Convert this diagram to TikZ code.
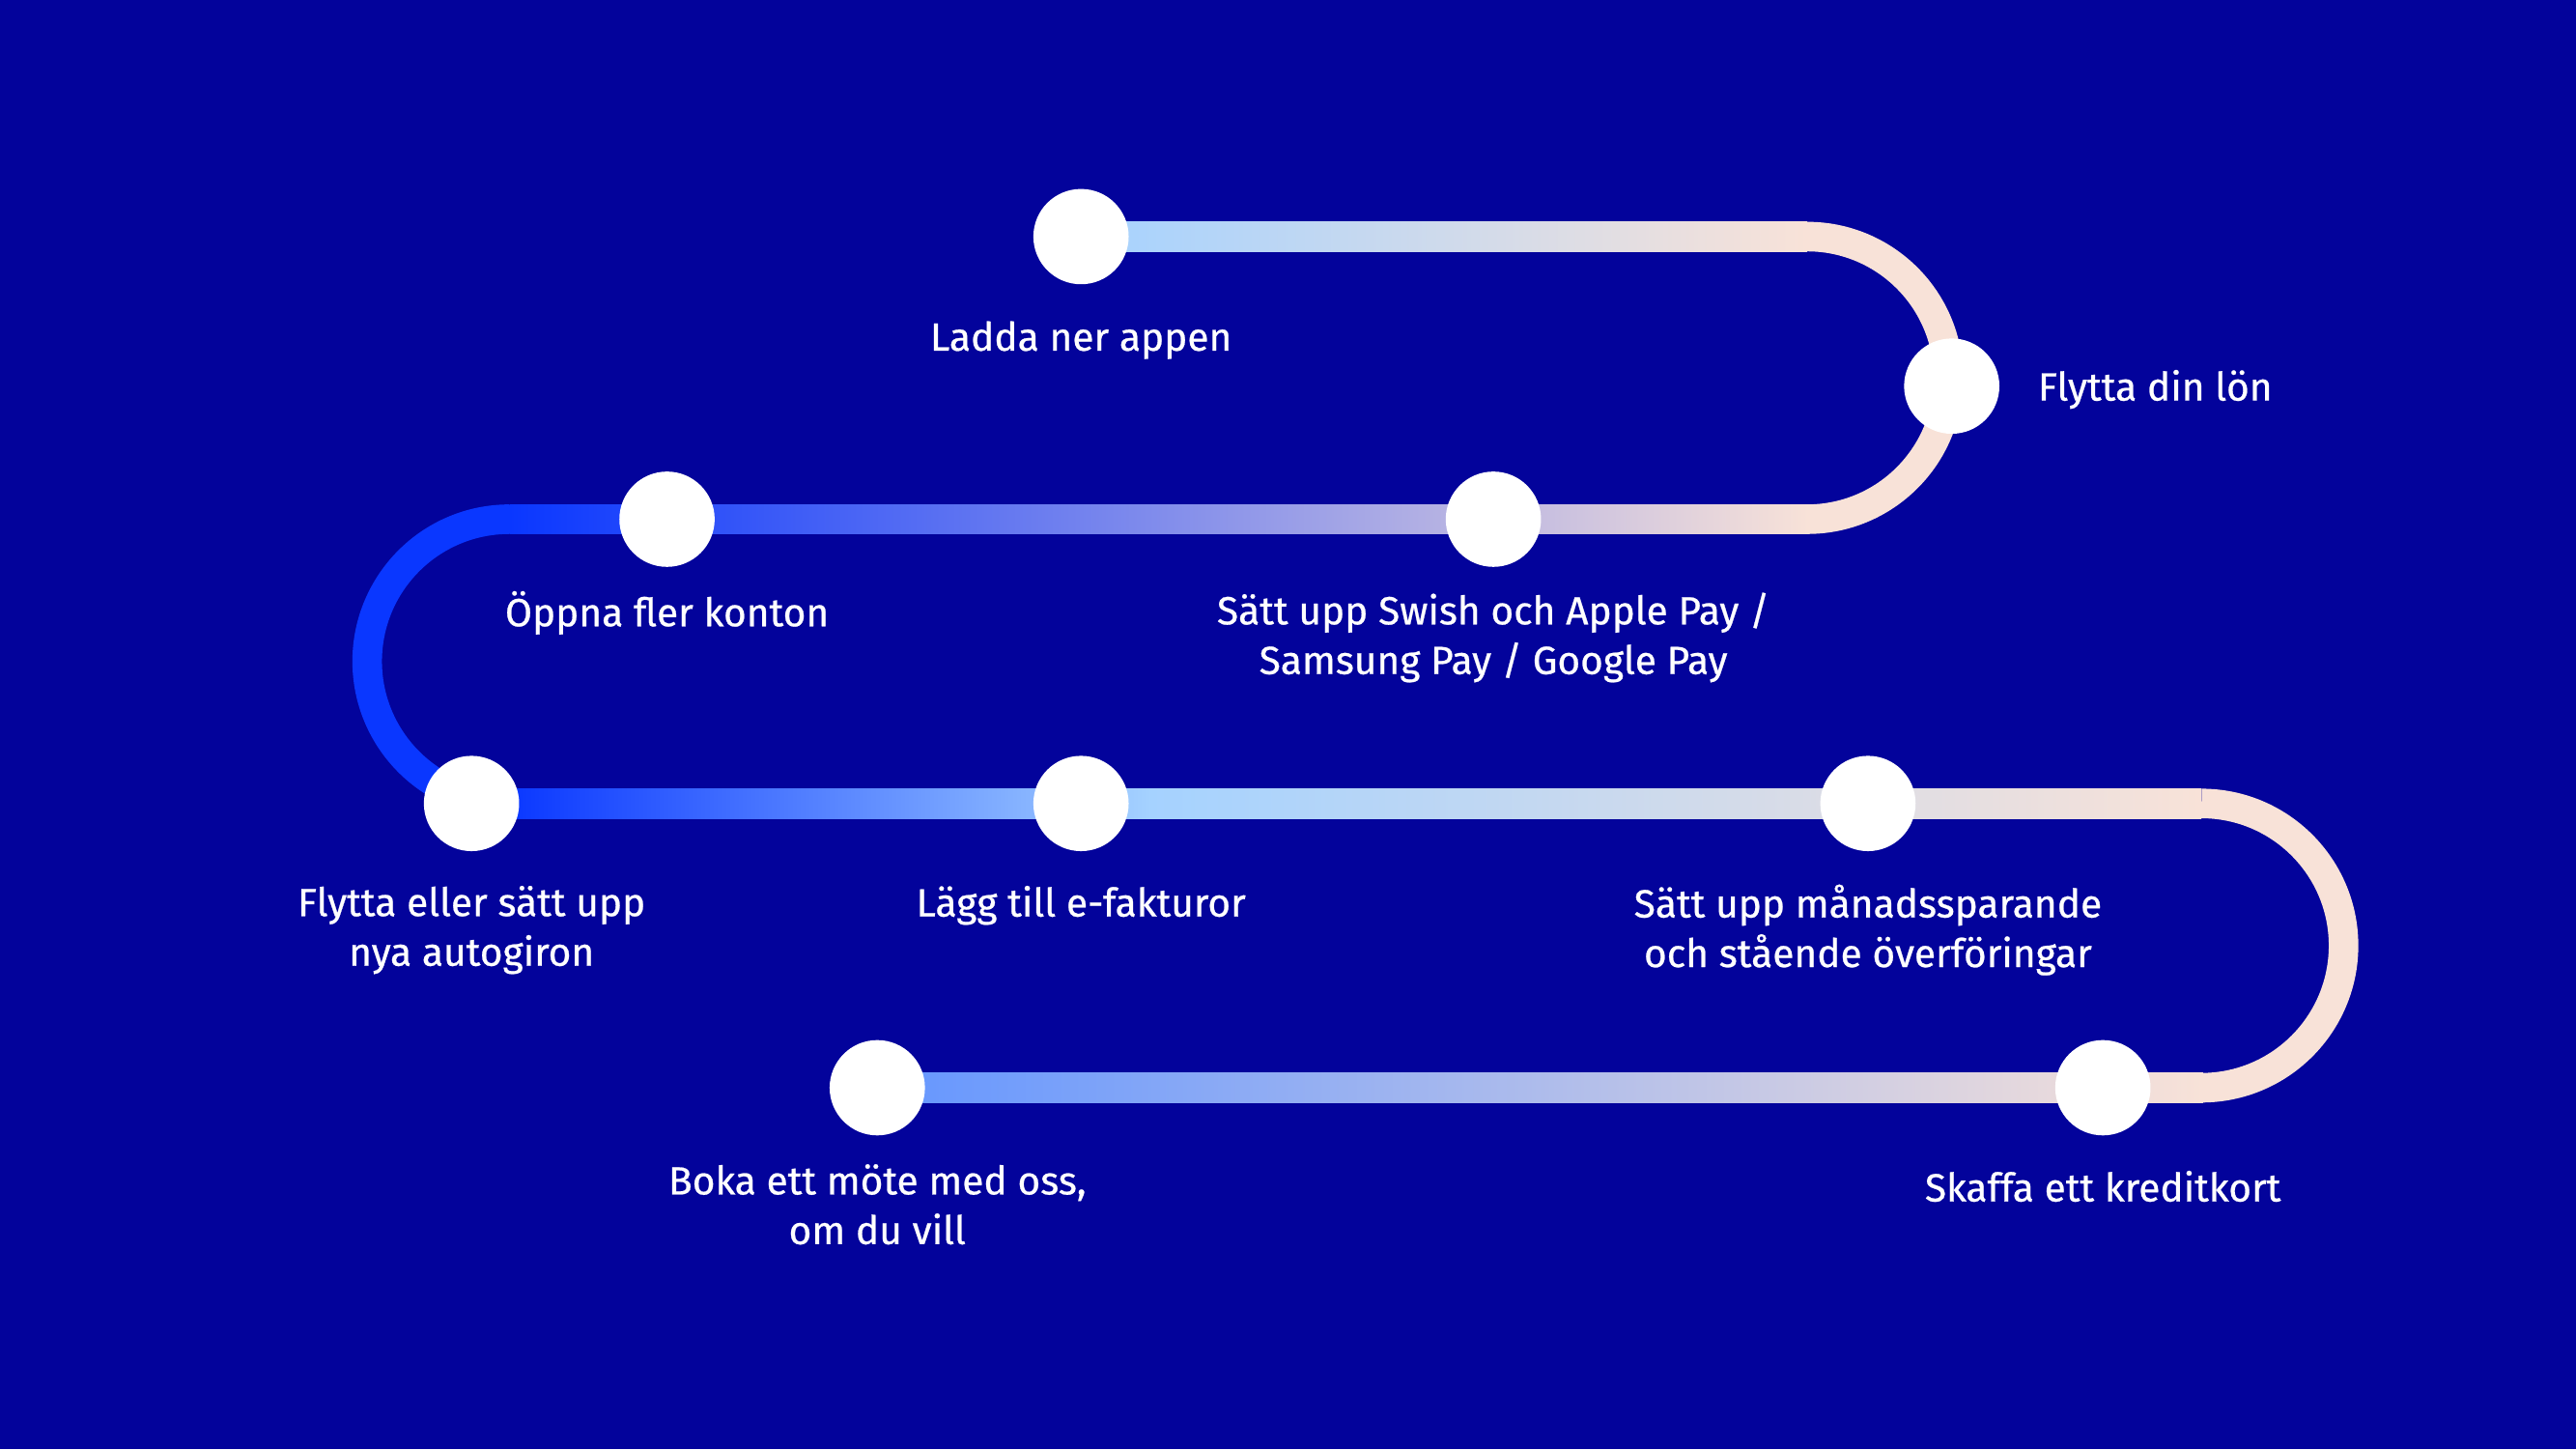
\documentclass[tikz,border=0pt]{standalone}
\usepackage{fontspec}
\setmainfont{Fira Sans}
\definecolor{bgblue}{RGB}{3,3,155}
\definecolor{deepblue}{RGB}{10,55,255}
\definecolor{midblue}{RGB}{100,150,255}
\definecolor{lightblue}{RGB}{165,210,255}
\definecolor{pale}{RGB}{238,242,252}
\definecolor{peach}{RGB}{248,226,216}
\tikzset{
  stop/.style={circle,fill=white,minimum size=29mm,inner sep=0pt},
  lbl/.style={text=white,align=center,font=\fontsize{34}{43}\selectfont\addfontfeature{FakeBold=0.6}},
  track/.style={line width=9mm}
}
\begin{document}
\begin{tikzpicture}[x=0.5mm,y=0.5mm]

%background
\fill[bgblue] (0,0) rectangle (1568,882);
\useasboundingbox (0,0) rectangle (1568,882);

%top row and right turn
\shade[left color=lightblue,middle color=pale,right color=peach] (658,729) rectangle (1100,747);
\draw[track,peach] (1100,738) arc[start angle=90,end angle=-90,radius=86];

%second row and left turn
\shade[left color=deepblue,middle color=lightblue,right color=peach] (310,557) rectangle (1101,575);
\draw[track,deepblue] (310,566) arc[start angle=90,end angle=270,radius=86.5];

%third row and right turn
\shade[left color=deepblue,right color=lightblue] (309,384) rectangle (701,402);
\shade[left color=lightblue,middle color=pale,right color=peach] (700,384) rectangle (1340,402);
\draw[track,peach] (1340,393) arc[start angle=90,end angle=-90,radius=86.5];

%bottom row
\shade[left color=midblue,middle color=pale,right color=peach] (534,211) rectangle (1341,229);

%stops
\node[stop] (app) at (658,738) {};
\node[stop] (lon) at (1188,647) {};
\node[stop] (swish) at (909,566) {};
\node[stop] (konton) at (406,566) {};
\node[stop] (autogiro) at (287,393) {};
\node[stop] (faktura) at (658,393) {};
\node[stop] (spar) at (1137,393) {};
\node[stop] (kort) at (1280,220) {};
\node[stop] (mote) at (534,220) {};

%labels
\node[lbl] (appL) at (658,675) {Ladda ner appen};
\node[lbl,anchor=west] (lonL) at (1238,645) {Flytta din lön};
\node[lbl] (swishL) at (909,494) {Sätt upp Swish och Apple Pay /\\Samsung Pay / Google Pay};
\node[lbl] (kontonL) at (406,509) {Öppna fler konton};
\node[lbl] (autogiroL) at (287,316) {Flytta eller sätt upp\\nya autogiron};
\node[lbl] (fakturaL) at (658,331) {Lägg till e-fakturor};
\node[lbl] (sparL) at (1137,316) {Sätt upp månadssparande\\och stående överföringar};
\node[lbl] (kortL) at (1280,160) {Skaffa ett kreditkort};
\node[lbl] (moteL) at (534,149) {Boka ett möte med oss,\\om du vill};

\end{tikzpicture}
\end{document}
